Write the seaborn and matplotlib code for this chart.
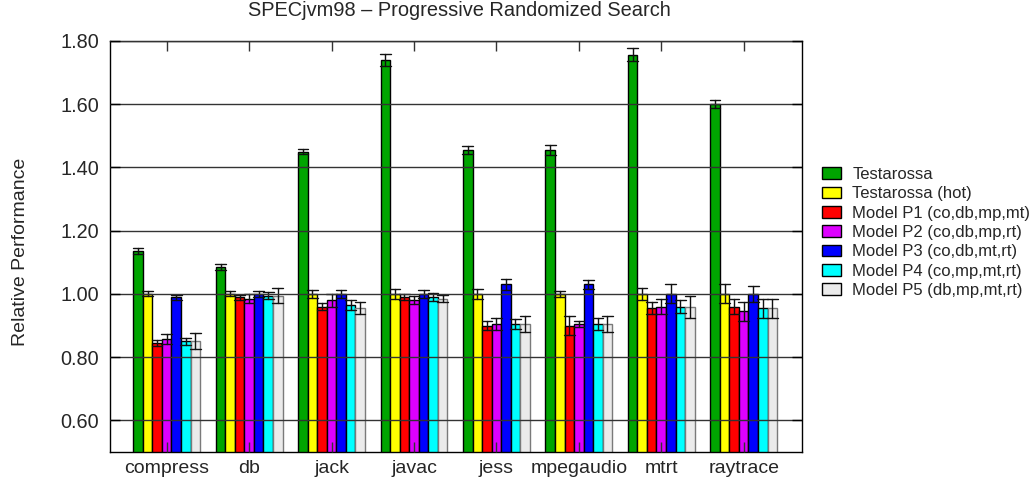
import numpy as np
import pandas as pd
import matplotlib
matplotlib.use("Agg")
import matplotlib.pyplot as plt
from matplotlib.ticker import FormatStrFormatter
import seaborn as sns

# ---------------- data ----------------
benchmarks = ["compress", "db", "jack", "javac", "jess", "mpegaudio", "mtrt", "raytrace"]
series = ["Testarossa", "Testarossa (hot)", "Model P1 (co,db,mp,mt)",
          "Model P2 (co,db,mp,rt)", "Model P3 (co,db,mt,rt)",
          "Model P4 (co,mp,mt,rt)", "Model P5 (db,mp,mt,rt)"]

testarossa       = [1.135, 1.085, 1.450, 1.740, 1.455, 1.455, 1.757, 1.600]
testarossa_err   = [0.010, 0.010, 0.008, 0.020, 0.012, 0.015, 0.020, 0.012]
hot              = [1.000, 1.000, 1.000, 1.000, 1.000, 1.000, 1.000, 1.000]
hot_err          = [0.008, 0.008, 0.012, 0.015, 0.015, 0.010, 0.018, 0.030]
p1               = [0.845, 0.990, 0.960, 0.990, 0.900, 0.900, 0.955, 0.960]
p1_err           = [0.010, 0.008, 0.012, 0.010, 0.015, 0.030, 0.020, 0.025]
p2               = [0.858, 0.985, 0.980, 0.980, 0.905, 0.905, 0.960, 0.945]
p2_err           = [0.015, 0.015, 0.020, 0.012, 0.020, 0.010, 0.025, 0.030]
p3               = [0.990, 1.000, 1.000, 1.000, 1.030, 1.030, 1.000, 1.000]
p3_err           = [0.008, 0.010, 0.012, 0.012, 0.018, 0.015, 0.030, 0.025]
p4               = [0.850, 0.995, 0.965, 0.990, 0.905, 0.905, 0.960, 0.955]
p4_err           = [0.012, 0.010, 0.015, 0.012, 0.015, 0.020, 0.020, 0.030]
p5               = [0.852, 0.995, 0.955, 0.985, 0.905, 0.905, 0.960, 0.955]
p5_err           = [0.025, 0.025, 0.020, 0.012, 0.025, 0.025, 0.035, 0.030]

colors = ["#00A500", "#FFFF00", "#FF0000", "#DD00FF", "#0000FF", "#00FFFF", "#EBEBEB"]
ytick_values = [0.60, 0.80, 1.00, 1.20, 1.40, 1.60, 1.80]

means = [testarossa, hot, p1, p2, p3, p4, p5]
errs = [testarossa_err, hot_err, p1_err, p2_err, p3_err, p4_err, p5_err]

rows = []
for s, m_list, e_list in zip(series, means, errs):
    for b, m, e in zip(benchmarks, m_list, e_list):
        rows.append({"benchmark": b, "series": s, "value": m - e})
        rows.append({"benchmark": b, "series": s, "value": m + e})
df = pd.DataFrame(rows)

# ---------------- style ----------------
sns.set_style("ticks")
plt.rcParams["font.family"] = ["Liberation Sans", "DejaVu Sans"]

W, H = 1032, 487
fig = plt.figure(figsize=(W / 100, H / 100), dpi=100)
ax = fig.add_axes([110 / W, 1 - 452 / H, 691.7 / W, 411 / H])

sns.barplot(data=df, x="benchmark", y="value", hue="series",
            order=benchmarks, hue_order=series, palette=colors,
            estimator="mean", errorbar=lambda v: (v.min(), v.max()),
            width=0.81, capsize=0.9, gap=0,
            err_kws={"color": "#111111", "linewidth": 1.0},
            edgecolor="black", linewidth=1.0, saturation=1, ax=ax)

for p in ax.containers[6].patches:
    p.set_edgecolor("#7a7a7a")

ax.set_xlim(-0.688, 7.704)
ax.set_ylim(0.5, 1.8)
ax.set_yticks(ytick_values)
ax.yaxis.set_major_formatter(FormatStrFormatter("%.2f"))
ax.set_axisbelow(False)
ax.yaxis.grid(True, color="#333333", linewidth=1.0)
ax.xaxis.grid(False)

ax.tick_params(axis="x", top=True, bottom=True, direction="in", length=7.2,
               width=1, color="#333333", labelsize=14, pad=6)
ax.tick_params(axis="y", left=True, right=True, direction="in", length=7.2,
               width=1, color="black", labelsize=14.3, pad=8)
for sp in ax.spines.values():
    sp.set_visible(True)
    sp.set_color("black")
    sp.set_linewidth(1.0)

ax.set_xlabel("")
ax.set_ylabel("Relative Performance", fontsize=14)
ax.yaxis.set_label_coords((29 - 110) / 691.7, (452 - 252) / 411)

fig.text(459 / W, 1 - 16 / H, "SPECjvm98 \u2013 Progressive Randomized Search",
         ha="center", va="baseline", fontsize=14.4)

handles, labels = ax.get_legend_handles_labels()
ax.legend(handles, labels, loc="upper left",
          bbox_to_anchor=(822 / W, 1 - 167 / H), bbox_transform=fig.transFigure,
          frameon=False, fontsize=12, handlelength=1.12, handleheight=0.72,
          handletextpad=0.7, labelspacing=0.26, borderpad=0, borderaxespad=0)

fig.savefig("out.png", dpi=100)
